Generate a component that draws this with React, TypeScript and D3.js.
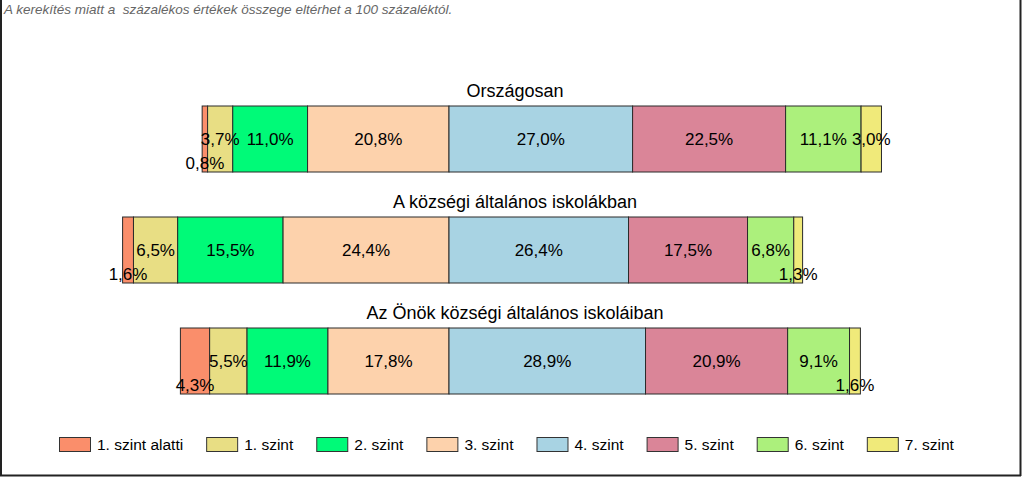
import React, { useEffect, useRef } from "react";
import * as d3 from "d3";

const groups = ["Országosan", "A községi általános iskolákban", "Az Önök községi általános iskoláiban"];
const levels = ["1. szint alatti", "1. szint", "2. szint", "3. szint", "4. szint", "5. szint", "6. szint", "7. szint"];
const colors = ["#FA8E6B", "#E8DE84", "#00FA78", "#FDD2AC", "#A8D3E3", "#DA8598", "#ACF07C", "#F0EA7A"];
const valuesOrszagos = [0.8, 3.7, 11.0, 20.8, 27.0, 22.5, 11.1, 3.0];
const valuesKozsegi = [1.6, 6.5, 15.5, 24.4, 26.4, 17.5, 6.8, 1.3];
const valuesOnok = [4.3, 5.5, 11.9, 17.8, 28.9, 20.9, 9.1, 1.6];
const series = [valuesOrszagos, valuesKozsegi, valuesOnok];
const splitIndex = 4; // levels below this go to the left of the center
const note = "A kerekítés miatt a  százalékos értékek összege eltérhet a 100 százaléktól.";

const W = 1024;
const H = 478;
const FONT = "'Liberation Sans', Arial, sans-serif";

export default function App() {
  const ref = useRef<SVGSVGElement>(null);

  useEffect(() => {
    const svg = d3.select(ref.current);
    svg.selectAll("*").remove();

    // frame
    svg.append("line").attr("x1", 1).attr("x2", 1).attr("y1", 0).attr("y2", 476).attr("stroke", "#222").attr("stroke-width", 2);
    svg.append("line").attr("x1", 1020.5).attr("x2", 1020.5).attr("y1", 0).attr("y2", 476).attr("stroke", "#222").attr("stroke-width", 2);
    svg.append("line").attr("x1", 0).attr("x2", 1021).attr("y1", 475.5).attr("y2", 475.5).attr("stroke", "#222").attr("stroke-width", 2);

    svg.append("text")
      .attr("x", 4).attr("y", 14)
      .attr("font-family", FONT).attr("font-size", 13.5).attr("font-style", "italic")
      .attr("fill", "#666")
      .style("white-space", "pre")
      .text(note);

    const x = d3.scaleLinear().domain([-50, 60]).range([449 - 340, 449 + 408]);
    const y = d3.scaleBand().domain(groups).range([90, 423]).paddingInner(0.0).paddingOuter(0);
    const barTop = 16;
    const barH = 66;

    groups.forEach((g, gi) => {
      const vals = series[gi];
      const gy = y(g)!;
      const leftSum = d3.sum(vals.slice(0, splitIndex));
      let cum = -leftSum;
      const row = svg.append("g");
      row.append("text")
        .attr("x", 515).attr("y", gy + 7)
        .attr("text-anchor", "middle")
        .attr("font-family", FONT).attr("font-size", 18).attr("fill", "#000")
        .text(g);
      const segs = vals.map((v, i) => {
        const s = { i, v, x0: x(cum), x1: x(cum + v) };
        cum += v;
        return s;
      });
      row.selectAll("rect").data(segs).enter().append("rect")
        .attr("x", (d) => d.x0).attr("width", (d) => d.x1 - d.x0)
        .attr("y", gy + barTop).attr("height", barH)
        .attr("fill", (d) => colors[d.i])
        .attr("stroke", "#2a2a2a").attr("stroke-width", 1);
      row.selectAll("text.lbl").data(segs).enter().append("text")
        .attr("class", "lbl")
        .attr("x", (d) => (d.x0 + d.x1) / 2)
        .attr("y", (d) => gy + barTop + barH / 2 + 6 + ((d.i === 0 || d.v < 2) ? 24 : 0))
        .attr("text-anchor", "middle")
        .attr("font-family", FONT).attr("font-size", 17).attr("fill", "#000")
        .text((d) => d3.format(".1f")(d.v).replace(".", ",") + "%");
    });

    // legend
    const leg = svg.append("g");
    let lx = 59;
    levels.forEach((l, i) => {
      leg.append("rect")
        .attr("x", lx + 0.5).attr("y", 437.5).attr("width", 31).attr("height", 14)
        .attr("fill", colors[i]).attr("stroke", "#333").attr("stroke-width", 1);
      const t = leg.append("text")
        .attr("x", lx + 38).attr("y", 450)
        .attr("font-family", FONT).attr("font-size", 15.5).attr("fill", "#000")
        .text(l);
      const tw = (t.node() as SVGTextElement).getComputedTextLength();
      lx = lx + 38 + tw + 23;
    });
  }, []);

  return (
    <svg ref={ref} width={W} height={H} style={{ position: "absolute", left: 0, top: 0, background: "#fff" }} />
  );
}
